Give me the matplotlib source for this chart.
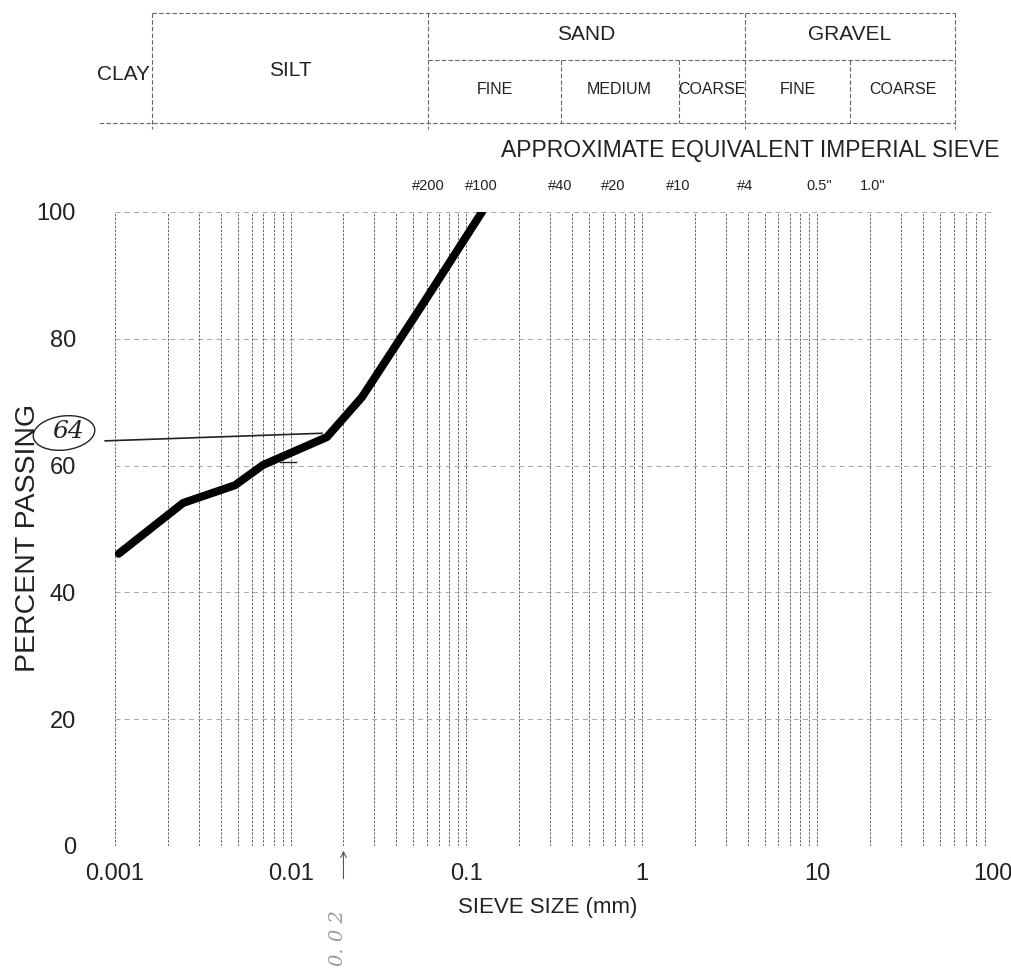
import numpy as np
import matplotlib.pyplot as plt
from matplotlib.patches import Ellipse
from matplotlib.ticker import LogLocator, FixedLocator, NullFormatter

plt.rcParams['font.family'] = ['Liberation Sans', 'DejaVu Sans']

# --- data -------------------------------------------------------------------
size_mm = [0.00105, 0.00244, 0.00482, 0.00697, 0.0161, 0.0255, 0.0546, 0.123]
passing = [46.1, 54.1, 56.9, 60.1, 64.5, 70.8, 84.8, 100.0]

# soil classification boundaries (mm)
soil_bounds = [0.002, 0.075, 0.425, 2.0, 4.75, 19.0, 75.0]
main_groups = [("CLAY", None, 0.002), ("SILT", 0.002, 0.075),
               ("SAND", 0.075, 4.75), ("GRAVEL", 4.75, 75.0)]
sub_groups = [("FINE", 0.075, 0.425), ("MEDIUM", 0.425, 2.0), ("COARSE", 2.0, 4.75),
              ("FINE", 4.75, 19.0), ("COARSE", 19.0, 75.0)]

sieve_names = ["#200", "#100", "#40", "#20", "#10", "#4", '0.5"', '1.0"']
sieve_sizes = [0.075, 0.15, 0.425, 0.85, 2.0, 4.75, 12.7, 25.4]

x_ticks = [0.001, 0.01, 0.1, 1, 10, 100]
x_tick_labels = ["0.001", "0.01", "0.1", "1", "10", "100"]
y_ticks = [0, 20, 40, 60, 80, 100]

# handwritten marks
mark64_x = [0.00088, 0.0151]
mark64_y = [63.9, 65.1]
mark60_x = [0.00872, 0.0108]
mark60_y = [60.6, 60.6]
arrow_size = 0.02

W, H = 1012, 969
fig = plt.figure(figsize=(W / 100, H / 100), dpi=100, facecolor='white')

def fx(px):
    return px / W

def fy(py):
    return 1 - py / H

# --- main chart -------------------------------------------------------------
ax = fig.add_axes([fx(115), fy(846), fx(993) - fx(115), fy(212) - fy(846)])
ax.set_xscale('log')
ax.set_xlim(0.001, 100)
ax.set_ylim(0, 100)
for s in ax.spines.values():
    s.set_visible(False)

ax.xaxis.set_major_locator(FixedLocator(x_ticks))
ax.set_xticklabels(x_tick_labels)
ax.xaxis.set_minor_locator(LogLocator(base=10, subs=np.arange(2, 10)))
ax.xaxis.set_minor_formatter(NullFormatter())
ax.set_yticks(y_ticks)
ax.tick_params(axis='both', which='both', length=0, labelsize=17, colors='#222222')
ax.tick_params(axis='y', pad=28)
ax.tick_params(axis='x', pad=12)

ax.grid(True, axis='x', which='both', color='#666666', lw=0.7, linestyle=(0, (2.5, 1.5)))
ax.grid(True, axis='y', which='major', color='#999999', lw=0.6, linestyle=(0, (6, 5)))

ax.plot(size_mm, passing, color='black', lw=5.8, solid_capstyle='round',
        solid_joinstyle='round', zorder=5)

# handwritten annotations
ax.plot(mark64_x, mark64_y, color='#222222', lw=1.2, clip_on=False, zorder=4)
ax.plot(mark60_x, mark60_y, color='#222222', lw=1.0, clip_on=False, zorder=4)
ax.annotate("", xy=(arrow_size, -0.3), xytext=(arrow_size, -5.6),
            arrowprops=dict(arrowstyle='->', color='#555555', lw=0.8),
            annotation_clip=False)
ax.text(arrow_size * 0.93, -14.5, "0. 0 2", rotation=90, ha='center', va='center',
        fontsize=14, color='#999999', style='italic', family='DejaVu Serif',
        clip_on=False)

fig.text(fx(28), fy(538), "PERCENT PASSING", rotation=90, ha='center', va='center',
         fontsize=20.5, color='#222222')
fig.text(fx(548), fy(908), "SIEVE SIZE (mm)", ha='center', va='center',
         fontsize=16, color='#222222')

fig.add_artist(Ellipse((fx(64), fy(433)), 62 / W, 34 / H, angle=8,
                       transform=fig.transFigure, fill=False, ec='#222222', lw=1.0))
fig.text(fx(68), fy(432), "64", ha='center', va='center', fontsize=18,
         style='italic', family='DejaVu Serif', color='#222222')

# --- classification header + sieve labels ----------------------------------
top = fig.add_axes([fx(99), fy(200), fx(993) - fx(115), fy(0) - fy(200)])
top.set_xscale('log')
top.set_xlim(0.001, 100)
top.set_ylim(200, 0)
top.axis('off')

line_kw = dict(color='#666666', lw=0.8, linestyle=(0, (4, 2)))
y_top, y_mid, y_bot = 13, 60, 123
top.plot([soil_bounds[0], soil_bounds[-1]], [y_top, y_top], **line_kw)
top.plot([soil_bounds[1], soil_bounds[-1]], [y_mid, y_mid], **line_kw)
top.plot([0.00065, soil_bounds[-1]], [y_bot, y_bot], **line_kw)
for b in [soil_bounds[0], soil_bounds[1], soil_bounds[4], soil_bounds[6]]:
    top.plot([b, b], [y_top, y_bot + 6], **line_kw)
for b in [soil_bounds[2], soil_bounds[3], soil_bounds[5]]:
    top.plot([b, b], [y_mid, y_bot], **line_kw)

for name, lo, hi in main_groups:
    if lo is None:
        top.text(hi * 0.97, 74, name, ha='right', va='center', fontsize=15, color='#222222')
    elif name in ("SAND", "GRAVEL"):
        top.text(np.sqrt(lo * hi), 34, name, ha='center', va='center', fontsize=15, color='#222222')
    else:
        top.text(np.sqrt(lo * hi), 70, name, ha='center', va='center', fontsize=15, color='#222222')
for name, lo, hi in sub_groups:
    top.text(np.sqrt(lo * hi), 89, name, ha='center', va='center', fontsize=11.5, color='#222222')

for name, s in zip(sieve_names, sieve_sizes):
    top.text(s, 186, name, ha='center', va='center', fontsize=10.5, color='#222222')

fig.text(fx(1000), fy(150), "APPROXIMATE EQUIVALENT IMPERIAL SIEVE", ha='right',
         va='center', fontsize=16.5, color='#222222')

fig.savefig("out.png", dpi=100, facecolor='white')
